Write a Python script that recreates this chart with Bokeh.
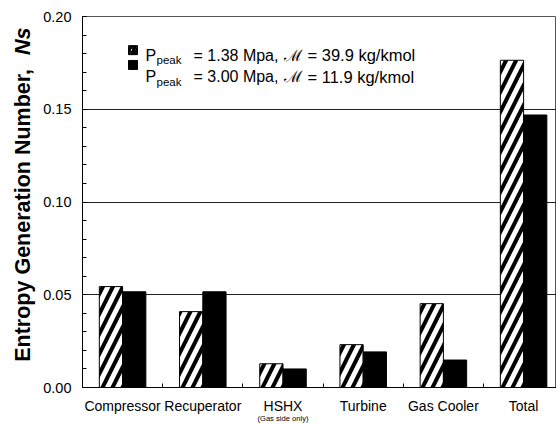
import math
from bokeh.plotting import figure
from bokeh.layouts import row
from bokeh.models import ColumnDataSource, FixedTicker, Label, Range1d, LinearAxis
from bokeh.core.properties import value
from bokeh.embed import file_html
from bokeh.resources import INLINE

categories = ["Compressor", "Recuperator", "HSHX", "Turbine", "Gas Cooler", "Total"]
ns_low_p = [0.0544, 0.0409, 0.0128, 0.0231, 0.0452, 0.1764]   # Ppeak = 1.38 MPa (hatched)
ns_high_p = [0.0516, 0.0516, 0.0100, 0.0192, 0.0148, 0.1469]  # Ppeak = 3.00 MPa (black)
y_ticks = [0.0, 0.05, 0.10, 0.15, 0.20]

FONT = "Liberation Sans"
TW = 40                      # width of the title strip
W, H = 556 - TW, 425
LEFT, TOP, BOTTOM = 82 - TW, 16, 34
frame_w = W - LEFT
frame_h = H - TOP - BOTTOM
cat_px = 80.2
x_end = frame_w / cat_px
y_end = 0.20

def dx(px):  # page px -> data x
    return (px - 82.0) / cat_px

def dy(py):  # page px -> data y
    return (391.0 - py) / (frame_h / y_end)

centers = [i + 0.5 for i in range(len(categories))]
bw = 0.29
src = ColumnDataSource(dict(
    x1=[c - bw / 2 for c in centers],
    x2=[c + bw / 2 for c in centers],
    a=ns_low_p, b=ns_high_p,
))

p = figure(width=W, height=H, output_backend="svg", toolbar_location=None,
           x_range=Range1d(0, x_end), y_range=Range1d(0, y_end),
           min_border_left=LEFT, min_border_right=0, min_border_top=TOP,
           min_border_bottom=BOTTOM)
p.background_fill_color = "white"
p.border_fill_color = "white"
p.outline_line_color = "#555555"
p.outline_line_width = 1

p.vbar(x="x1", top="a", width=bw, source=src, fill_color="white",
       line_color="black", line_width=1, hatch_pattern="/", hatch_color="black",
       hatch_scale=20, hatch_weight=4)
p.vbar(x="x2", top="b", width=bw, source=src, fill_color="black",
       line_color="black", line_width=1)

# axes
p.xaxis.ticker = FixedTicker(ticks=centers, minor_ticks=[1, 2, 3, 4, 5])
p.xaxis.major_label_overrides = {c: n for c, n in zip(centers, categories)}
p.xaxis.major_tick_in = 0
p.xaxis.major_tick_out = 0
p.xaxis.minor_tick_in = 4
p.xaxis.minor_tick_out = 0
p.xaxis.major_label_standoff = 10
p.xaxis.major_label_text_font = FONT
p.xaxis.major_label_text_font_size = "14px"
p.xaxis.major_label_text_color = "black"
p.xaxis.axis_line_color = "black"
p.xaxis.minor_tick_line_color = "black"

# secondary label line under HSHX
sub_axis = LinearAxis(ticker=FixedTicker(ticks=[centers[2]], minor_ticks=[]),
                      major_label_overrides={centers[2]: "(Gas side only)"},
                      major_tick_in=0, major_tick_out=0, minor_tick_in=0, minor_tick_out=0,
                      axis_line_color=None, major_label_standoff=-3,
                      major_label_text_font=FONT, major_label_text_font_size="7.6px",
                      major_label_text_color="black")
p.add_layout(sub_axis, "below")

p.yaxis.ticker = FixedTicker(ticks=y_ticks,
                             minor_ticks=[i / 100 for i in range(0, 21)])
p.yaxis.major_label_overrides = {t: f"{t:.2f}" for t in y_ticks}
p.yaxis.major_tick_in = 4
p.yaxis.major_tick_out = 0
p.yaxis.minor_tick_in = 4
p.yaxis.minor_tick_out = 0
p.yaxis.major_label_standoff = 11
p.yaxis.major_label_text_font = FONT
p.yaxis.major_label_text_font_size = "14.5px"
p.yaxis.major_label_text_color = "black"
p.yaxis.axis_line_color = "black"
p.yaxis.major_tick_line_color = "black"
p.yaxis.minor_tick_line_color = "black"

p.xgrid.grid_line_color = None
p.ygrid.ticker = FixedTicker(ticks=[0.05, 0.10, 0.15])
p.ygrid.grid_line_color = "#222222"
p.ygrid.grid_line_width = 1

# legend
legend_rows = [
    ("= 1.38 Mpa,", "= 39.9 kg/kmol", 55),
    ("= 3.00 Mpa,", "= 11.9 kg/kmol", 77),
]
p.scatter(x=[dx(132.5)], y=[dy(50)], marker="square", size=9, fill_color="white",
          line_color="black", line_width=1, hatch_pattern="/", hatch_color="black",
          hatch_scale=7, hatch_weight=3)
p.scatter(x=[dx(132.5)], y=[dy(65)], marker="square", size=9, fill_color="black",
          line_color="black")
for ptxt, mtxt, base in legend_rows:
    kw = dict(text_font=FONT, text_color="black", text_align="left",
              text_baseline="alphabetic")
    p.add_layout(Label(x=dx(145), y=dy(base), text="P", text_font_size="16px", **kw))
    p.add_layout(Label(x=dx(156), y=dy(base + 5), text="peak", text_font_size="11.5px", **kw))
    p.add_layout(Label(x=dx(193), y=dy(base), text=ptxt, text_font_size="16px", **kw))
    p.add_layout(Label(x=dx(283), y=dy(base), text="\u2133", text_font_size="16px",
                       text_font="DejaVu Serif", text_color="black", text_align="left",
                       text_baseline="alphabetic"))
    p.add_layout(Label(x=dx(307), y=dy(base), text=mtxt, text_font_size="16.5px", **kw))

# y-axis title strip; its frame is aligned with the main frame (page y TOP .. H-BOTTOM)
t = figure(width=TW, height=H, output_backend="svg", toolbar_location=None,
           x_range=Range1d(0, TW), y_range=Range1d(H - BOTTOM, TOP),
           min_border_left=0, min_border_right=0, min_border_top=TOP,
           min_border_bottom=BOTTOM, x_axis_type=None, y_axis_type=None)
t.outline_line_color = None
t.grid.grid_line_color = None
t.border_fill_color = "white"
t.background_fill_color = "white"
t.text(x=[22], y=[365], text=["Entropy Generation Number,"], angle=math.pi / 2,
       text_font=value(FONT), text_font_size=value("21.5px"), text_font_style=value("bold"),
       text_align=value("left"), text_baseline=value("middle"), text_color="black")
t.text(x=[22], y=[55], text=["Ns"], angle=math.pi / 2,
       text_font=value(FONT), text_font_size=value("21.5px"), text_font_style=value("bold italic"),
       text_align=value("left"), text_baseline=value("middle"), text_color="black")

layout = row(t, p, spacing=0)
open("out.html", "w").write(file_html(layout, INLINE))
